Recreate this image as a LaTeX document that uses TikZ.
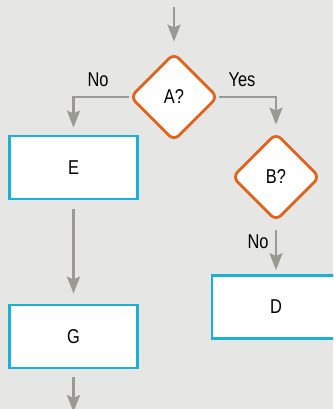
\documentclass[tikz,border=0pt]{standalone}
\usepackage{fontspec}
\setmainfont{Liberation Sans}[FakeStretch=0.82]
\usepackage{tikz}
\usetikzlibrary{positioning, arrows.meta, shapes.geometric}

\definecolor{bggray}{HTML}{E6E6E4}
\definecolor{linegray}{HTML}{9A9A92}
\definecolor{deciorange}{HTML}{E0641E}
\definecolor{boxcyan}{HTML}{1BB1D6}

\tikzset{
  decision/.style={diamond, draw=deciorange, line width=2.8pt, fill=white,
    rounded corners=7pt, minimum width=88pt, minimum height=88pt, inner sep=0pt},
  block/.style={rectangle, draw=boxcyan, line width=2.8pt, fill=white,
    minimum width=128pt, minimum height=63pt, inner sep=0pt},
  flow/.style={draw=linegray, line width=2.8pt,
    -{Stealth[length=17pt, width=13pt, inset=3pt]}},
  lbl/.style={inner sep=0pt}
}

\begin{document}
\begin{tikzpicture}[x=1pt, y=-1pt, font=\fontsize{20}{22}\selectfont]
  \useasboundingbox (0,0) rectangle (333,409);
  \fill[bggray] (0,0) rectangle (333,409);
  \clip (0,0) rectangle (333,409);

  % shapes
  \node[decision] (A) at (174,97) {A?};
  \node[decision] (B) at (276,177) {B?};
  \node[block] (E) at (73.5,167.5) {E};
  \node[block] (G) at (73.5,336.5) {G};
  \node[block] (D) at (276,307) {D};
  \coordinate (in) at (174,7);
  \coordinate (out) at (73.5,412);

  % connectors
  \draw[flow, shorten >=10pt] (in) -- (A.north);
  \draw[flow, shorten >=7pt] (A.west) -| (E.north);
  \draw[flow, shorten >=7pt] (A.east) -| (B.north);
  \draw[flow, shorten <=9pt, shorten >=10pt] (E.south) -- (G.north);
  \draw[flow, shorten <=8pt, shorten >=4pt] (B.south) -- (D.north);
  \draw[flow, shorten <=8pt] (G.south) -- (out);

  % labels
  \node[lbl] (no1) at (98,80) {No};
  \node[lbl] (yes1) at (242,80) {Yes};
  \node[lbl] (no2) at (258,242) {No};
\end{tikzpicture}
\end{document}
